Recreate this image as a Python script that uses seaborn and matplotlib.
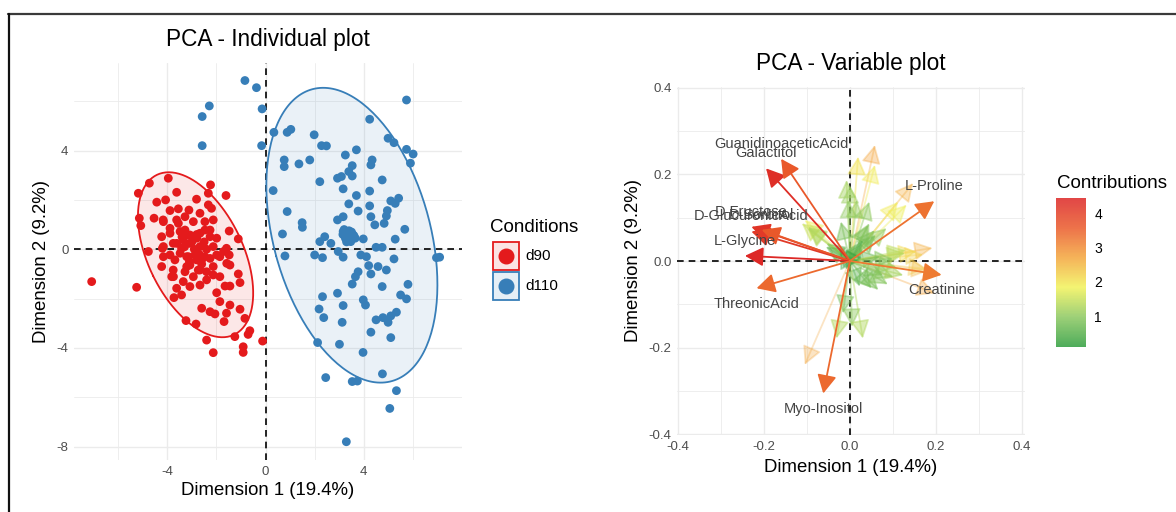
import numpy as np
import pandas as pd
import matplotlib
matplotlib.use("Agg")
import matplotlib.pyplot as plt
import seaborn as sns
from matplotlib.colors import LinearSegmentedColormap, Normalize
from matplotlib.patches import Rectangle
from matplotlib.lines import Line2D
from matplotlib.ticker import FixedLocator

# ---------------- data ----------------
conditions = ["d90", "d110"]
cond_colors = ["#E41A1C", "#377EB8"]

d90_x = [-7.08, -5.25, -5.18, -4.73, -3.96, -3.62, -2.24, -2.33, -1.61, -4.43, -4.07, -2.81, -2.33,
         -5.14, -5.08, -4.54, -3.89, -3.55, -3.12, -2.67, -2.20, -4.16, -3.62, -3.28, -2.94, -2.47,
         -2.13, -1.48, -1.11, -4.23, -3.89, -3.48, -3.21, -2.67, -2.26, -1.99, -4.77, -4.20, -3.76,
         -3.42, -3.08, -2.67, -2.13, -1.59, -4.16, -3.69, -3.21, -2.81, -2.47, -1.86, -1.48, -4.23,
         -3.76, -3.21, -2.67, -2.13, -1.45, -3.82, -3.35, -2.94, -2.40, -1.86, -1.11, -1.04, -3.62,
         -3.08, -2.67, -1.99, -1.65, -1.45, -3.73, -3.42, -2.60, -2.26, -1.86, -1.45, -1.59, -1.04,
         -0.84, -3.24, -2.83, -2.06, -1.69, -0.64, -0.71, -1.25, -2.40, -2.13, -0.91, -0.91, -0.12,
         -4.17, -3.89, -3.55, -3.28, -3.08, -2.80, -2.47, -2.26, -3.35, -3.62, -4.16, -3.89, -3.48,
         -3.14, -2.87, -2.60, -2.26, -1.99, -1.71, -1.58, -3.08, -2.74, -3.28, -3.75, -2.40, -2.13,
         -3.00, -2.90, -3.30, -2.50, -2.70, -3.10, -2.40, -3.40, -2.80, -2.60]
d90_y = [-1.31, -1.54, 2.27, 2.68, 2.88, 2.31, 2.61, 2.27, 2.18, 1.91, 2.00, 2.03, 1.80,
         1.26, 0.96, 1.26, 1.57, 1.64, 1.59, 1.46, 1.66, 1.12, 1.19, 1.32, 1.12, 1.12,
         1.19, 0.74, 0.42, 0.51, 0.65, 0.72, 0.58, 0.65, 0.78, 0.45, -0.09, 0.04, 0.24,
         0.04, 0.24, 0.11, 0.11, 0.04, -0.30, -0.43, -0.30, -0.43, -0.30, -0.30, -0.23, -0.70,
         -0.84, -0.70, -0.84, -0.70, -0.64, -1.11, -1.31, -1.11, -1.24, -1.11, -1.00, -1.35, -1.58,
         -1.51, -1.45, -1.76, -1.49, -1.49, -1.96, -1.85, -2.39, -2.53, -2.12, -2.26, -2.59, -2.43,
         -2.80, -2.89, -3.03, -2.62, -2.93, -3.30, -3.45, -3.54, -3.68, -4.19, -3.95, -4.18, -3.72,
         1.19, 0.85, 1.05, 0.78, 0.58, 0.45, 0.78, 0.51, 0.38, 0.24, 0.11, -0.23, -0.16,
         -0.30, -0.23, -0.43, -0.37, -0.23, -0.09, -0.57, -0.64, -0.84, -0.91, -1.11, -0.91, -1.04,
         0.30, 0.00, 0.10, 0.30, -0.20, -0.50, 0.00, 0.50, 0.60, -0.60]

d110_x = [-0.84, -0.37, -2.29, -2.58, -0.14, -2.58, -0.16, 5.74, 0.34, 0.88, 1.03, 1.98, 4.24,
          2.28, 2.48, 4.99, 5.23, 3.70, 3.25, 5.74, 6.01, 5.90, 0.76, 0.76, 1.36, 1.80, 3.53,
          3.53, 4.34, 4.29, 3.39, 2.93, 3.09, 4.75, 2.21, 0.31, 3.16, 3.70, 4.24, 3.39, 4.24,
          5.10, 5.42, 5.28, 3.77, 0.88, 4.96, 4.92, 1.49, 1.50, 2.93, 3.16, 4.29, 4.45, 4.83,
          5.67, 0.69, 2.41, 2.66, 2.21, 3.16, 3.36, 3.57, 3.98, 3.47, 5.28, 4.50, 4.75, 0.79,
          2.00, 2.32, 2.96, 3.16, 3.88, 4.11, 6.96, 7.09, 5.23, 4.20, 4.58, 4.92, 3.77, 4.29,
          3.66, 3.53, 4.75, 5.80, 2.32, 2.93, 3.98, 4.07, 5.50, 5.74, 2.18, 2.37, 3.16, 3.12,
          4.50, 4.78, 4.99, 5.10, 5.33, 4.29, 5.10, 2.12, 3.01, 3.97, 2.45, 3.53, 3.74, 4.76,
          5.33, 5.06, 3.29, 3.30, 3.40, 3.50, 3.30, 3.60, 3.45, 3.20,
          3.35, 3.25, 3.55, 3.40, 3.15, 3.50, 3.30, 3.65]
d110_y = [6.84, 6.55, 5.81, 5.38, 5.69, 4.20, 4.20, 6.05, 4.74, 4.74, 4.86, 4.64, 5.27,
          4.20, 4.19, 4.50, 4.32, 4.03, 3.82, 4.05, 3.86, 3.49, 3.62, 3.35, 3.46, 3.62, 3.39,
          2.97, 3.62, 3.42, 3.15, 2.88, 2.95, 2.81, 2.74, 2.38, 2.45, 2.18, 2.36, 1.84, 1.76,
          1.96, 2.07, 1.86, 1.55, 1.53, 1.57, 1.35, 1.08, 0.89, 1.19, 1.32, 1.32, 0.99, 1.05,
          0.81, 0.62, 0.51, 0.24, 0.31, 0.72, 0.58, 0.45, 0.42, 0.31, 0.41, 0.08, 0.08, -0.27,
          -0.23, -0.34, -0.09, -0.32, -0.23, -0.30, -0.34, -0.32, -0.39, -0.66, -0.70, -0.84, -0.91, -1.00,
          -1.11, -1.41, -1.51, -1.42, -1.92, -1.78, -2.05, -2.26, -1.85, -2.01, -2.42, -2.77, -2.28, -2.96,
          -2.86, -2.77, -2.96, -2.70, -2.55, -3.36, -3.58, -3.78, -3.85, -4.18, -5.20, -5.36, -5.34, -5.05,
          -5.73, -6.45, -7.80, 0.60, 0.50, 0.70, 0.40, 0.55, 0.35, 0.80,
          0.55, 0.45, 0.60, 0.75, 0.60, 0.40, 0.30, 0.45]

# variables plot (coordinates on Dim1 / Dim2, contribution, cos2)
var_names = ["Galactitol", "GuanidinoaceticAcid", "D-Fructose", "D-GlucuronicAcid", "D-Sorbitol",
             "L-Glycine", "ThreonicAcid", "L-Proline", "Creatinine", "Myo-Inositol"]
var_x = [-0.195, -0.160, -0.229, -0.229, -0.205, -0.244, -0.217, 0.196, 0.213, -0.062]
var_y = [0.214, 0.236, 0.079, 0.068, 0.072, 0.012, -0.063, 0.138, -0.032, -0.306]
var_contrib = [4.3, 3.6, 4.2, 4.1, 3.6, 4.4, 3.4, 3.3, 3.2, 3.4]
var_cos2 = [1.0] * 10

other_x = [0.058, 0.147, 0.192, 0.198, -0.105, 0.185, 0.019, 0.058, 0.112, 0.132, 0.155, 0.170,
           0.178, -0.105, -0.008, 0.000, 0.016, 0.045, 0.042, 0.057, 0.027, 0.085, 0.128, 0.070,
           0.108, 0.077, 0.101, 0.124, 0.023, 0.050, 0.066, 0.088, -0.016, 0.005, 0.030, -0.031,
           -0.112, -0.097, -0.054, -0.027, -0.004, -0.021, -0.098, -0.056, 0.045, 0.060, 0.030,
           0.130, 0.100, 0.020, -0.010]
other_y = [0.268, 0.180, 0.030, -0.075, -0.240, -0.022, 0.241, 0.222, 0.137, 0.130, 0.022, 0.015,
           -0.018, 0.095, 0.187, 0.175, 0.141, 0.137, 0.083, 0.071, 0.041, 0.076, 0.018, 0.010,
           -0.014, -0.033, -0.037, -0.033, -0.059, -0.063, -0.067, -0.054, -0.121, -0.152, -0.179, -0.179,
           0.087, 0.079, 0.041, 0.030, 0.141, 0.091, 0.075, 0.033, 0.087, 0.060, 0.048,
           0.025, 0.005, 0.000, -0.020]
other_contrib = [2.7, 2.6, 2.6, 2.7, 2.7, 2.5, 2.0, 1.9, 1.9, 1.8, 2.1, 2.2,
                 2.3, 1.8, 1.2, 1.1, 1.1, 1.0, 0.9, 0.8, 0.5, 1.1, 1.3, 0.6,
                 1.0, 0.8, 1.0, 1.2, 0.5, 0.7, 0.8, 0.9, 0.7, 1.0, 1.3, 1.3,
                 1.5, 1.3, 0.6, 0.3, 1.0, 0.8, 1.3, 0.6, 0.9, 0.8, 0.5,
                 1.4, 0.9, 0.1, 0.1]
other_cos2 = [0.35, 0.35, 0.35, 0.35, 0.30, 0.30, 0.45, 0.40, 0.40, 0.40, 0.40, 0.35,
              0.30, 0.40, 0.45, 0.40, 0.45, 0.45, 0.45, 0.45, 0.40, 0.45, 0.45, 0.40,
              0.45, 0.45, 0.45, 0.45, 0.40, 0.45, 0.45, 0.45, 0.40, 0.45, 0.45, 0.45,
              0.45, 0.45, 0.40, 0.35, 0.40, 0.45, 0.45, 0.40, 0.45, 0.45, 0.40,
              0.45, 0.45, 0.30, 0.30]

contrib_ticks = [1, 2, 3, 4]

# ---------------- style ----------------
sns.set_theme(style="white")
plt.rcParams["font.family"] = ["Liberation Sans", "DejaVu Sans"]
plt.rcParams["axes.unicode_minus"] = False
text_col = "#4d4d4d"
grid_col = "#ebebeb"

fig = plt.figure(figsize=(11.76, 5.12), dpi=100)
W, H = 1176, 512

def frac(x0, y0, x1, y1):
    return [x0 / W, 1 - y1 / H, (x1 - x0) / W, (y1 - y0) / H]

# frame lines (screenshot border)
fig.add_artist(Line2D([8 / W, 1], [1 - 14 / H, 1 - 14 / H], color="#3a3a3a", lw=1.6, transform=fig.transFigure))
fig.add_artist(Line2D([9 / W, 9 / W], [0, 1 - 14 / H], color="#111111", lw=1.6, transform=fig.transFigure))

def style_axes(ax):
    for s in ax.spines.values():
        s.set_visible(False)
    ax.set_facecolor("white")
    ax.grid(True, which="major", color=grid_col, lw=1.0)
    ax.grid(True, which="minor", color=grid_col, lw=0.6)
    ax.set_axisbelow(True)
    ax.tick_params(which="both", length=0, labelsize=9.5, labelcolor=text_col, pad=4)

# ---------------- individuals ----------------
ax1 = fig.add_axes(frac(74, 63, 462, 460))
style_axes(ax1)
df = pd.DataFrame({
    "Dim1": d90_x + d110_x,
    "Dim2": d90_y + d110_y,
    "Condition": ["d90"] * len(d90_x) + ["d110"] * len(d110_x),
})
palette = dict(zip(conditions, cond_colors))

def cov_trob(X, nu=5, maxit=25, tol=0.01):
    """Robust multivariate-t location/scatter (as MASS::cov.trob)."""
    n, p = X.shape
    loc = X.mean(axis=0)
    w = np.ones(n)
    for _ in range(maxit):
        w0 = w
        Xc = X - loc
        S = (Xc * w[:, None]).T @ Xc / w.sum()
        Q = np.einsum("ij,jk,ik->i", Xc, np.linalg.inv(S), Xc)
        w = (nu + p) / (nu + Q)
        loc = (w[:, None] * X).sum(axis=0) / w.sum()
        if np.all(np.abs(w - w0) < tol):
            break
    Xc = X - loc
    cov = (Xc * w[:, None]).T @ Xc / n
    return loc, cov

def ellipse_xy(x, y, level=0.95, npts=200):
    X = np.column_stack([np.asarray(x), np.asarray(y)])
    n = len(X)
    loc, cov = cov_trob(X)
    dfd = n - 1
    fq = (dfd / 2.0) * ((1 - level) ** (-2.0 / dfd) - 1)
    r = np.sqrt(2 * fq)
    vals, vecs = np.linalg.eigh(cov)
    t = np.linspace(0, 2 * np.pi, npts)
    circ = np.vstack([np.cos(t), np.sin(t)])
    pts = vecs @ (np.sqrt(vals)[:, None] * circ) * r
    return pts[0] + loc[0], pts[1] + loc[1]

for cond, col in palette.items():
    sub = df[df.Condition == cond]
    ex, ey = ellipse_xy(sub.Dim1, sub.Dim2)
    ax1.fill(ex, ey, color=col, alpha=0.1, lw=0, zorder=1)
    ax1.plot(ex, ey, color=col, lw=1.3, zorder=3)

sns.scatterplot(data=df, x="Dim1", y="Dim2", hue="Condition", palette=palette,
                s=40, edgecolor="none", linewidth=0, ax=ax1, legend=False, zorder=4)
ax1.axhline(0, color="black", ls=(0, (4, 3)), lw=1.2, zorder=2)
ax1.axvline(0, color="black", ls=(0, (4, 3)), lw=1.2, zorder=2)
ax1.set_xlim(-7.8, 8.0)
ax1.set_ylim(-8.54, 7.55)
ax1.xaxis.set_major_locator(FixedLocator([-4, 0, 4]))
ax1.yaxis.set_major_locator(FixedLocator([-8, -4, 0, 4]))
ax1.xaxis.set_minor_locator(FixedLocator([-6, -2, 2, 6]))
ax1.yaxis.set_minor_locator(FixedLocator([-6, -2, 2, 6]))
ax1.set_xlabel("Dimension 1 (19.4%)", fontsize=13.4, color="black", labelpad=3)
ax1.set_ylabel("Dimension 2 (9.2%)", fontsize=13.4, color="black", labelpad=5)
ax1.set_title("PCA - Individual plot", fontsize=16.3, color="black", pad=12)

# legend (drawn in its own axes, pixel coordinates)
lax = fig.add_axes(frac(486, 212, 600, 305))
lax.set_xlim(486, 600)
lax.set_ylim(305, 212)
lax.axis("off")
lax.text(490, 228, "Conditions", fontsize=13.5, ha="left", va="center", color="black")
for i, (cond, col) in enumerate(palette.items()):
    y0 = 242 + 30 * i
    lax.add_patch(Rectangle((493, y0), 26, 28, facecolor=matplotlib.colors.to_rgba(col, 0.12),
                            edgecolor=col, lw=1.3))
    lax.plot([506], [y0 + 14], marker="o", markersize=10.5, color=col, ls="none")
    lax.text(525, y0 + 14, cond, fontsize=11, ha="left", va="center", color="black")

# ---------------- variables ----------------
ax2 = fig.add_axes(frac(677, 87, 1025, 435))
style_axes(ax2)
cmap = LinearSegmentedColormap.from_list(
    "contrib", ["#2f9e3e", "#8cc860", "#f2f25a", "#f4a63c", "#ea5a2a", "#dc2626"])
norm = Normalize(vmin=0.1, vmax=4.44)

ax2.axhline(0, color="black", ls=(0, (4, 3)), lw=1.2, zorder=1)
ax2.axvline(0, color="black", ls=(0, (4, 3)), lw=1.2, zorder=1)

all_x = other_x + var_x
all_y = other_y + var_y
all_c = other_contrib + var_contrib
all_a = other_cos2 + var_cos2
for x, y, c, a in zip(all_x, all_y, all_c, all_a):
    col = cmap(norm(c))
    ax2.annotate("", xy=(x, y), xytext=(0, 0),
                 arrowprops=dict(arrowstyle="-|>,head_length=0.8,head_width=0.42",
                                 color=col, alpha=a, lw=1.3, shrinkA=0, shrinkB=0,
                                 mutation_scale=14), zorder=3)

for name, x, y in zip(var_names, var_x, var_y):
    off = 11 if y >= 0 else -11
    ax2.annotate(name, xy=(x, y), xytext=(0, off), textcoords="offset points",
                 ha="center", va="center", fontsize=10.5, color="#444444", zorder=5)

ax2.set_xlim(-0.402, 0.407)
ax2.set_ylim(-0.402, 0.402)
ax2.xaxis.set_major_locator(FixedLocator([-0.4, -0.2, 0.0, 0.2, 0.4]))
ax2.yaxis.set_major_locator(FixedLocator([-0.4, -0.2, 0.0, 0.2, 0.4]))
ax2.xaxis.set_minor_locator(FixedLocator([-0.3, -0.1, 0.1, 0.3]))
ax2.yaxis.set_minor_locator(FixedLocator([-0.3, -0.1, 0.1, 0.3]))
ax2.set_xticklabels(["-0.4", "-0.2", "0.0", "0.2", "0.4"])
ax2.set_yticklabels(["-0.4", "-0.2", "0.0", "0.2", "0.4"])
ax2.set_xlabel("Dimension 1 (19.4%)", fontsize=13.4, color="black", labelpad=5)
ax2.set_ylabel("Dimension 2 (9.2%)", fontsize=13.4, color="black", labelpad=5)
ax2.set_title("PCA - Variable plot", fontsize=16.3, color="black", pad=12)

# colorbar
cax = fig.add_axes(frac(1056, 198, 1086, 347))
sm = matplotlib.cm.ScalarMappable(norm=norm, cmap=cmap)
cb = fig.colorbar(sm, cax=cax, ticks=contrib_ticks)
cb.outline.set_visible(False)
cb.solids.set_alpha(0.85)
cax.tick_params(which="major", direction="in", color="white", length=5, width=0.8,
                labelsize=10, labelcolor="black", right=True, left=True, pad=6)
cax.set_yticklabels([str(t) for t in contrib_ticks])
fig.text(1057 / W, 1 - 184 / H, "Contributions", fontsize=13.5, ha="left", va="center", color="black")

fig.savefig("out.png", dpi=100)
